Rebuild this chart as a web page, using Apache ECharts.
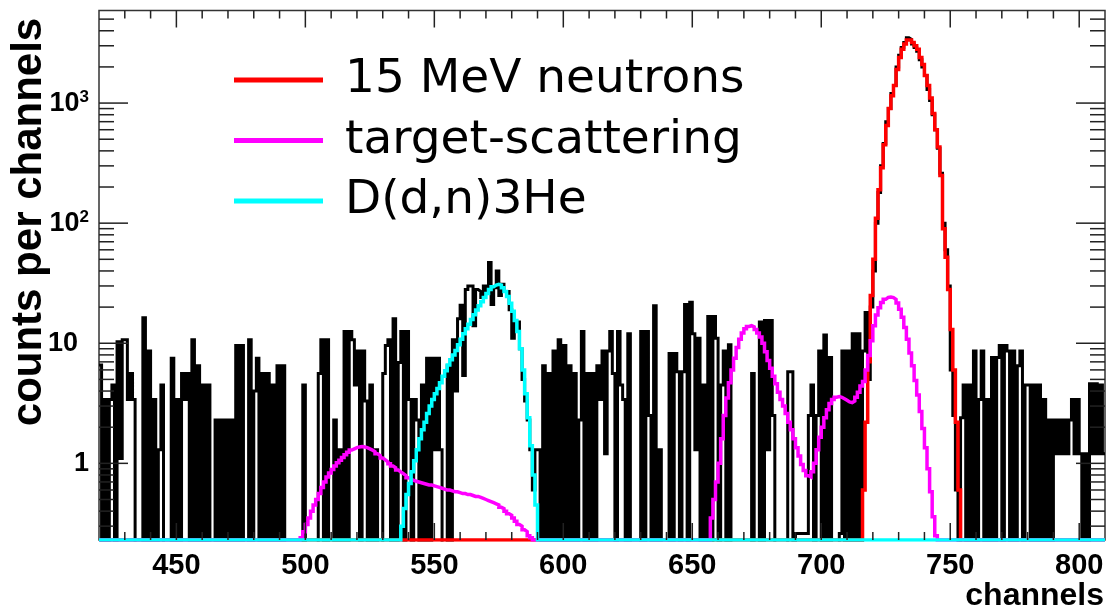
<!DOCTYPE html>
<html><head><meta charset="utf-8">
<script src="https://cdn.jsdelivr.net/npm/echarts@6/dist/echarts.min.js"></script>
<style>html,body{margin:0;padding:0;background:#fff}#c{width:1108px;height:611px}</style>
</head><body><div id="c"></div>
<script>
// ---- axis ranges ----
const xMin = 420, xMax = 810;
const yMin = 0.23, yMax = 5900;

// ---- tick positions / labels ----
const xMajorTicks = [450, 500, 550, 600, 650, 700, 750, 800];
const xMinorTicks = [430, 440, 460, 470, 480, 490, 510, 520, 530, 540, 560, 570, 580, 590, 610, 620, 630, 640, 660, 670, 680, 690, 710, 720, 730, 740, 760, 770, 780, 790];
const yMajorTicks = [1, 10, 100, 1000];
const yMinorTicks = [0.3, 0.4, 0.5, 0.6, 0.7, 0.8, 0.9, 2, 3, 4, 5, 6, 7, 8, 9, 20, 30, 40, 50, 60, 70, 80, 90, 200, 300, 400, 500, 600, 700, 800, 900, 2000, 3000, 4000, 5000];

// ---- measured histogram (counts per channel, channels 420..809) ----
const blackStart = 420;
const blackCounts = [
  6.6, 0, 3.4, 0, 3.4, 4.5, 0, 10.3, 1.1, 10.7,
  10.7, 3.4, 5.6, 3.4, 0, 0, 0, 16.3, 0, 8.6,
  0, 3.4, 0, 1.3, 4.5, 0, 0, 0, 7.5, 0,
  3.4, 0, 5.6, 3.4, 5.6, 0, 10.7, 0, 6.5, 0,
  4.5, 0, 4.5, 0, 0, 2.3, 0, 2.3, 0, 2.3,
  0, 2.3, 0, 9.6, 0, 9.6, 0, 0, 10.7, 0,
  4.0, 7.5, 0, 5.6, 0, 5.6, 0, 4.5, 0, 6.5,
  0, 6.5, 0, 0, 0, 0, 0, 0, 0, 4.5,
  0, 0, 0, 0, 0, 5.6, 10.7, 0, 10.7, 0,
  0, 2.3, 0, 1.3, 0, 12.5, 0, 12.5, 10.7, 4.5,
  8.6, 0, 8.6, 3.3, 0, 4.5, 0, 1.3, 0, 0,
  5.6, 9.6, 10.7, 0, 16, 0, 6.9, 12.5, 0, 12.5,
  3.4, 0, 3.4, 2.3, 0, 4.5, 0, 7.5, 0, 7.5,
  1.3, 7.5, 1.3, 0, 0, 6.5, 0, 10.7, 4, 16,
  20.7, 5.4, 28, 30, 30, 14, 28, 27, 24, 30,
  26, 47, 21, 29, 40, 25, 31, 27, 27, 19,
  11, 15, 15, 9, 5, 3.3, 2.3, 1.3, 0.6, 1.3,
  1.3, 0, 6.5, 0, 5.6, 0, 8.6, 0, 10.7, 0,
  9.6, 0, 6.5, 0, 5.6, 0, 2.3, 12.5, 0, 5.6,
  0, 5.6, 0, 6.5, 3.4, 8.6, 1.2, 8.6, 12.5, 5.6,
  0, 12.5, 4.5, 3.4, 0, 12, 0, 0, 0, 0,
  12.5, 0, 12.5, 2.5, 0, 20.5, 0, 1.3, 0, 0,
  0, 8.2, 0, 8.2, 5.8, 0, 5.8, 21, 0, 22,
  12, 1.3, 11, 0, 4.5, 0, 16.7, 0, 16.7, 11,
  0, 4.5, 8.6, 0, 9.7, 0, 0, 0, 0, 0,
  0, 0, 0, 5.6, 0, 0, 15, 0, 15.5, 1.3,
  15.5, 2.5, 0, 0, 0, 0, 0, 5.8, 5.8, 0,
  0.26, 0.26, 0.26, 0.26, 0.26, 2.5, 4.5, 0, 2.5, 8.6,
  0, 11.7, 0, 7.6, 0, 0, 0, 0.26, 8.6, 0,
  8.6, 0, 12, 0, 12, 0, 8.6, 18, 5, 20,
  40, 100, 180, 300, 460, 700, 900, 1200, 1400, 2000,
  2500, 2900, 3200, 3500, 3400, 3100, 2900, 2700, 2300, 2000,
  1700, 1300, 1050, 800, 600, 420, 260, 100, 60, 30,
  6, 2.5, 0.6, 0, 2.4, 4.5, 0, 4.5, 0, 8.6,
  0, 3.4, 8.6, 0, 3.4, 0, 7.6, 0, 7.6, 9.6,
  0, 9.6, 8.6, 0, 8.6, 0, 6.5, 8.6, 0, 4.5,
  4.5, 0, 4.5, 0, 4.5, 0, 3.4, 0, 2.3, 0,
  2.3, 1.2, 2.3, 1.2, 2.3, 1.2, 2.3, 3.4, 1.2, 3.4,
  1.2, 0, 1.2, 0, 4.6, 1.2, 4.6, 1.2, 4.5, 1.2
];

// ---- fitted components ----
const neutronStart = 716;   // 15 MeV neutrons
const neutronCounts = [0.6, 2.2, 7, 25, 50, 110, 190, 290, 450, 650, 900, 1150, 1400, 1900, 2400, 2800, 3100, 3350, 3350, 3200,
  3000, 2800, 2400, 2100, 1700, 1400, 1100, 820, 600, 430, 250, 90, 52, 28, 13, 6, 2.2, 0.6];

const scatterStartA = 498;  // target-scattering, low part
const scatterCountsA = [0.24, 0.27, 0.31, 0.35, 0.4, 0.45, 0.5, 0.56, 0.63, 0.7, 0.77, 0.83, 0.89, 0.95, 1.01, 1.06, 1.12, 1.18, 1.24, 1.29,
  1.32, 1.35, 1.37, 1.38, 1.37, 1.35, 1.32, 1.29, 1.25, 1.2, 1.16, 1.11, 1.07, 1.03, 0.99, 0.95, 0.92, 0.88, 0.85, 0.82,
  0.79, 0.76, 0.74, 0.72, 0.71, 0.7, 0.69, 0.68, 0.67, 0.66, 0.66, 0.65, 0.64, 0.63, 0.62, 0.61, 0.6, 0.6, 0.59, 0.58,
  0.58, 0.57, 0.56, 0.56, 0.55, 0.55, 0.54, 0.53, 0.53, 0.52, 0.51, 0.5, 0.49, 0.48, 0.47, 0.46, 0.45, 0.43, 0.42, 0.4,
  0.38, 0.37, 0.35, 0.33, 0.31, 0.3, 0.28, 0.27, 0.25, 0.24, 0.23];

const scatterStartB = 656;  // target-scattering, high part
const scatterCountsB = [0.23, 0.35, 0.5, 0.7, 1.0, 1.6, 2.5, 3.5, 4.7, 6.0, 7.5, 9.2, 10.8, 12.2, 13.2, 13.8, 14.0, 13.7, 13.0, 12.2,
  11.3, 10.0, 8.5, 7.2, 6.2, 5.3, 4.6, 3.9, 3.4, 3.0, 2.6, 2.2, 1.9, 1.6, 1.35, 1.15, 0.98, 0.87, 0.79, 0.77,
  0.85, 1.0, 1.3, 1.65, 2.0, 2.4, 2.8, 3.15, 3.4, 3.55, 3.6, 3.55, 3.45, 3.35, 3.25, 3.2, 3.3, 3.55, 3.9, 4.4,
  4.8, 6.0, 7.9, 10.5, 14, 17.2, 19.8, 21.8, 23.2, 24.1, 24.3, 24, 23.2, 21.6, 19.2, 16.5, 13.5, 10.8, 8.3, 6.5,
  4.9, 3.7, 2.7, 1.95, 1.35, 0.9, 0.58, 0.36, 0.25];

const ddnStart = 537;       // D(d,n)3He
const ddnCounts = [0.3, 0.42, 0.55, 0.68, 0.85, 1.05, 1.3, 1.6, 1.9, 2.2, 2.6, 3.0, 3.4, 3.8, 4.2, 4.7, 5.3, 5.9, 6.6, 7.3,
  8.0, 8.7, 9.7, 10.8, 12.0, 13.2, 14.4, 15.8, 17.3, 18.9, 20.5, 22.2, 24, 26, 28, 29.5, 30.5, 31, 30.5, 29,
  27, 24.5, 21.5, 18.5, 15.5, 12.5, 9, 6, 3.8, 2.4, 1.4, 0.8, 0.45, 0.23];

const legendNames = ['15 MeV neutrons', 'target-scattering', 'D(d,n)3He'];

// ---- build step-histogram point lists ----
function histPoints(pieces, empty) {
  const map = {};
  pieces.forEach(([start, arr]) => arr.forEach((v, i) => { map[start + i] = v; }));
  const pts = [];
  let last = empty;
  for (let c = xMin; c < xMax; c++) {
    let v = (c in map) ? map[c] : empty;
    if (!(v > 0)) v = empty;
    pts.push([c, v]);
    last = v;
  }
  pts.push([xMax, last]);
  return pts;
}
const blackPts = histPoints([[blackStart, blackCounts]], 0.01);
const redPts = histPoints([[neutronStart, neutronCounts]], yMin);
const magPts = histPoints([[scatterStartA, scatterCountsA], [scatterStartB, scatterCountsB]], yMin);
const cyanPts = histPoints([[ddnStart, ddnCounts]], yMin);

const tickData = [];
xMinorTicks.forEach(v => tickData.push([v, yMin, 0]));
xMajorTicks.forEach(v => tickData.push([v, yMin, 1]));
yMinorTicks.forEach(v => tickData.push([xMin, v, 2]));
yMajorTicks.forEach(v => tickData.push([xMin, v, 3]));

const chart = echarts.init(document.getElementById('c'), null, {renderer: 'canvas'});
const axisFont = {fontFamily: 'Liberation Sans', fontWeight: 'bold', color: '#000'};

function stepSeries(name, data, color, width, z) {
  return {
    name, type: 'line', data, step: 'end', showSymbol: false, symbol: 'none',
    clip: true, z, silent: true,
    lineStyle: {color, width, join: 'miter'}, itemStyle: {color}
  };
}

chart.setOption({
  animation: false,
  backgroundColor: '#fff',
  grid: {left: 99, right: 3, top: 10.5, bottom: 71, show: true, borderColor: '#333', borderWidth: 1.5,
         backgroundColor: 'transparent', outerBoundsMode: 'none', containLabel: false},
  legend: {
    data: legendNames, orient: 'vertical', left: 234, top: 54, padding: 0,
    icon: 'rect', itemWidth: 89, itemHeight: 5, itemGap: 8.5,
    selectedMode: false,
    textStyle: {fontFamily: 'DejaVu Sans', fontSize: 47, color: '#000', lineHeight: 52, padding: [0, 0, 0, 17]}
  },
  xAxis: {
    type: 'value', min: xMin, max: xMax, interval: 10,
    axisLine: {show: false}, axisTick: {show: false}, splitLine: {show: false},
    axisLabel: Object.assign({fontSize: 29, margin: 11,
      formatter: v => (v % 50 === 0 ? String(v) : '')}, axisFont)
  },
  yAxis: {
    type: 'log', logBase: 10, min: yMin, max: yMax,
    axisLine: {show: false}, axisTick: {show: false}, splitLine: {show: false}, minorTick: {show: false},
    axisLabel: Object.assign({fontSize: 27, margin: 10, showMinLabel: false, showMaxLabel: false,
      formatter: v => {
        const l = Math.log10(v), e = Math.round(l);
        if (Math.abs(l - e) > 1e-6 || e < 0) return '';
        if (e === 0) return '1';
        if (e === 1) return '{ten|10}';
        return '10{sup|' + e + '}';
      },
      rich: {
        ten: {fontSize: 27, fontWeight: 'bold', fontFamily: 'Liberation Sans', color: '#000', padding: [0, 11, 0, 0]},
        sup: {fontSize: 17, fontWeight: 'bold', fontFamily: 'Liberation Sans', color: '#000', verticalAlign: 'top', padding: [0, 0, 12, 0]}
      }
    }, axisFont)
  },
  graphic: [
    {type: 'text', x: 29, y: 222, rotation: Math.PI / 2,
     style: {text: 'counts per channels', fontSize: 42, fontWeight: 'bold', fontFamily: 'Liberation Sans', fill: '#000',
             align: 'center', verticalAlign: 'middle', textAlign: 'center', textVerticalAlign: 'middle'}},
    {type: 'text', x: 1104, y: 596,
     style: {text: 'channels', fontSize: 32, fontWeight: 'bold', fontFamily: 'Liberation Sans', fill: '#000',
             align: 'right', verticalAlign: 'middle', textAlign: 'right', textVerticalAlign: 'middle'}}
  ],
  series: [
    stepSeries('data', blackPts, '#000', 3, 2),
    stepSeries(legendNames[0], redPts, '#ff0000', 3.5, 3),
    stepSeries(legendNames[1], magPts, '#ff00ff', 3.5, 4),
    stepSeries(legendNames[2], cyanPts, '#00ffff', 3.5, 5),
    {
      type: 'custom', name: 'ticks', data: tickData, silent: true, clip: false, z: 6,
      encode: {x: 0, y: 1},
      renderItem: (params, api) => {
        const kind = api.value(2);
        const p = api.coord([api.value(0), api.value(1)]);
        const cs = params.coordSys;
        const style = {stroke: '#222', lineWidth: 1.5};
        if (kind < 2) {
          const len = kind === 1 ? 17 : 8;
          const b = cs.y + cs.height;
          return {type: 'group', children: [
            {type: 'line', shape: {x1: p[0], y1: b, x2: p[0], y2: b - len}, style},
            {type: 'line', shape: {x1: p[0], y1: cs.y, x2: p[0], y2: cs.y + len}, style}
          ]};
        }
        const len = kind === 3 ? 29 : 15;
        const r = cs.x + cs.width;
        return {type: 'group', children: [
          {type: 'line', shape: {x1: cs.x, y1: p[1], x2: cs.x + len, y2: p[1]}, style},
          {type: 'line', shape: {x1: r, y1: p[1], x2: r - len, y2: p[1]}, style}
        ]};
      }
    }
  ]
});
</script>
</body></html>
